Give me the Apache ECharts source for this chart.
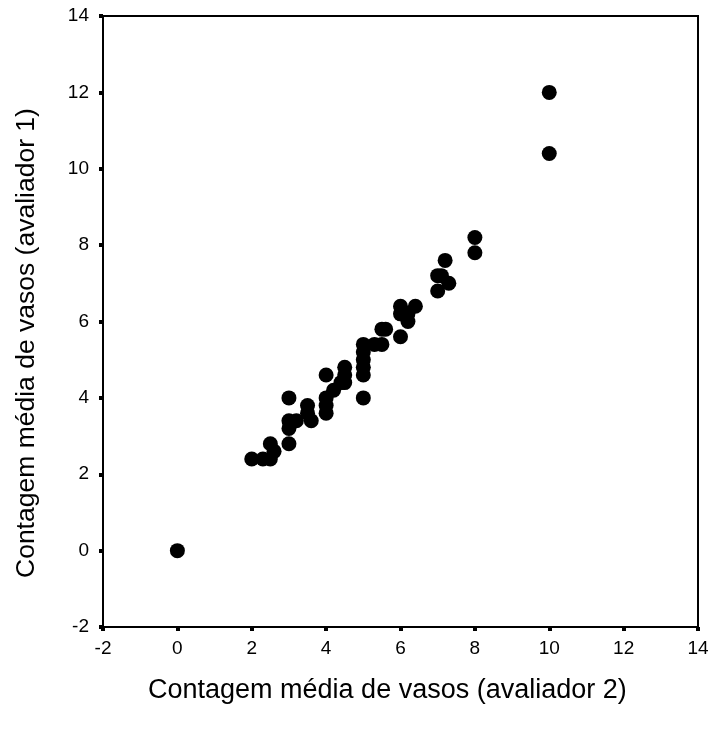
<!DOCTYPE html>
<html>
<head>
<meta charset="utf-8">
<script src="https://cdn.jsdelivr.net/npm/echarts@6/dist/echarts.min.js"></script>
<style>html,body{margin:0;padding:0;background:#fff}#c{width:714px;height:735px}</style>
</head>
<body>
<div id="c"></div>
<script>
// Data (x = avaliador 2, y = avaliador 1)
const avaliador2 = [0, 2, 2.3, 2.5, 2.6, 2.5, 3, 3, 3, 3.2, 3, 3.5, 3.5, 3.6, 4, 4, 4, 4, 4.2, 4.4, 4.5, 4.5, 4.5, 5, 5, 5, 5, 5, 5, 5.3, 5.5, 5.5, 5.6, 6, 6, 6, 6.2, 6.2, 6.4, 7, 7, 7.1, 7.3, 7.2, 8, 8, 10, 10];
const avaliador1 = [0, 2.4, 2.4, 2.4, 2.6, 2.8, 2.8, 3.2, 3.4, 3.4, 4.0, 3.6, 3.8, 3.4, 3.6, 3.8, 4.0, 4.6, 4.2, 4.4, 4.4, 4.6, 4.8, 4.0, 4.6, 4.8, 5.0, 5.2, 5.4, 5.4, 5.4, 5.8, 5.8, 5.6, 6.2, 6.4, 6.0, 6.2, 6.4, 6.8, 7.2, 7.2, 7.0, 7.6, 7.8, 8.2, 10.4, 12];
const axisMin = -2, axisMax = 14, axisStep = 2;
const xTitle = 'Contagem média de vasos (avaliador 2)';
const yTitle = 'Contagem média de vasos (avaliador 1)';

const points = avaliador2.map((x, i) => [x, avaliador1[i]]);
const font = '"Liberation Sans", Arial, sans-serif';
const chart = echarts.init(document.getElementById('c'), null, {renderer: 'canvas'});
const axisCommon = {
  type: 'value', min: axisMin, max: axisMax, interval: axisStep,
  splitLine: {show: false},
  axisLine: {show: true, onZero: false, lineStyle: {color: '#000', width: 2}},
  axisTick: {show: true, length: 4, lineStyle: {color: '#000', width: 4}},
  axisLabel: {color: '#000', fontSize: 19, fontFamily: font}
};
chart.setOption({
  animation: false,
  backgroundColor: '#fff',
  grid: {left: 103, right: 16, top: 16, bottom: 108, show: true, borderColor: '#000', borderWidth: 2, containLabel: false},
  xAxis: Object.assign({}, axisCommon, {axisLabel: Object.assign({}, axisCommon.axisLabel, {margin: 12})}),
  yAxis: Object.assign({}, axisCommon, {axisLabel: Object.assign({}, axisCommon.axisLabel, {margin: 14})}),
  graphic: [
    {type: 'text', left: 148, top: 677, style: {text: xTitle, font: '27px ' + font, fill: '#000'}},
    {type: 'text', rotation: Math.PI / 2, x: 13, y: 578, style: {text: yTitle, font: '26.5px ' + font, fill: '#000', textVerticalAlign: 'top'}}
  ],
  series: [{
    type: 'scatter', data: points, symbol: 'circle', symbolSize: 15,
    itemStyle: {color: '#000', opacity: 1}
  }]
});
</script>
</body>
</html>
